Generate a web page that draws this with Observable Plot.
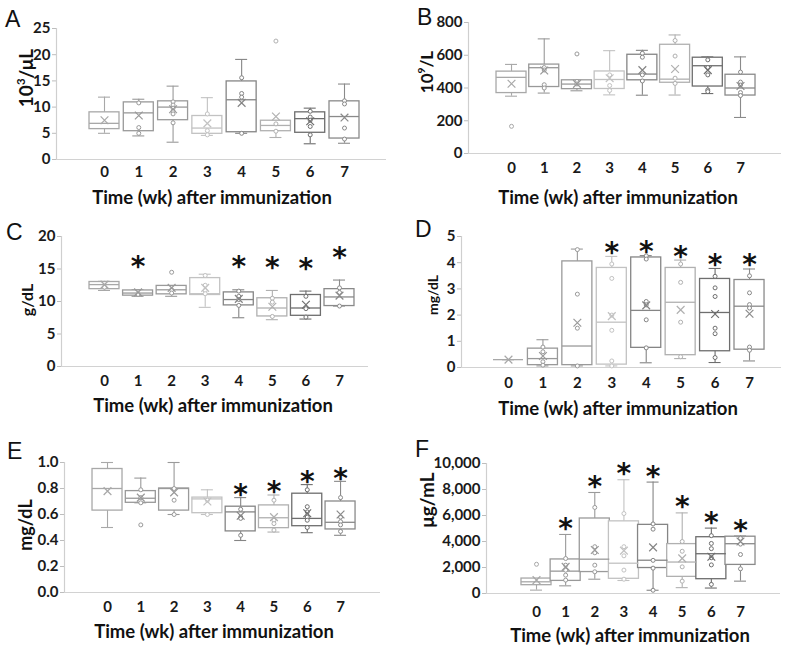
<!DOCTYPE html>
<html>
<head>
<meta charset="utf-8">
<script src="https://cdn.jsdelivr.net/npm/d3@7"></script>
<script src="https://cdn.jsdelivr.net/npm/@observablehq/plot@0.6"></script>
<style>
  body { margin: 0; background: #fff; }
  #root { position: relative; width: 786px; height: 646px; background: #fff; overflow: hidden; }
  .abs { position: absolute; white-space: nowrap; }
  .letter { font-family: "Liberation Sans", Arial, sans-serif; font-size: 23px; color: #111; line-height: 1; }
  .title { font-family: Lato, sans-serif; font-weight: bold; font-size: 18.5px; line-height: 1; color: #111; transform: translate(-50%, -50%); }
  .ylab { font-family: Lato, sans-serif; font-weight: bold; color: #111; line-height: 1; transform: translate(-50%, -50%) rotate(-90deg); }
  .ylab sup { font-size: 0.6em; vertical-align: 0.7em; line-height: 0; }
  svg { position: absolute; }
</style>
</head>
<body>
<div id="root"></div>
<script>
// ---------- DATA ----------
const weeks = [0, 1, 2, 3, 4, 5, 6, 7];
const weekColors = ["#a8a8a8", "#999999", "#9a9a9a", "#c2c2c2", "#858585", "#b0b0b0", "#6e6e6e", "#8a8a8a"];

// stats per week: [lower whisker, Q1, median, Q3, upper whisker, mean]
const A_stats = [[5.0, 5.8, 6.9, 9.0, 11.9, 7.5], [4.5, 5.4, 8.9, 10.9, 11.5, 8.4], [3.3, 7.5, 10.0, 11.1, 14.0, 9.6], [4.6, 4.9, 6.0, 8.3, 11.8, 6.9],
                 [5.0, 5.2, 11.4, 14.9, 19.1, 10.8], [4.2, 5.4, 6.5, 7.4, 7.4, 8.2], [3.0, 5.1, 7.8, 9.0, 9.8, 7.3], [3.1, 4.0, 8.2, 11.1, 14.4, 8.0]];
const A_points = [[], [10.8, 6.1, 5.0], [11.0, 10.4, 9.8, 9.2, 8.7, 7.0], [8.7, 5.5, 4.7], [15.6, 12.6, 11.9, 5.0], [22.6, 6.8, 5.4], [9.2, 8.1, 7.5, 6.3, 4.7], [11.2, 10.6, 6.0, 3.9]];
const A_sig = [0, 0, 0, 0, 0, 0, 0, 0];
const A_ticks = [0, 5, 10, 15, 20, 25];

const B_stats = [[350, 369, 465, 500, 544, 426], [369, 406, 524, 543, 700, 507], [383, 393, 424, 447, 447, 425], [358, 394, 452, 501, 628, 460],
                 [356, 447, 485, 603, 630, 509], [357, 432, 454, 664, 724, 516], [366, 409, 536, 585, 590, 509], [220, 354, 400, 481, 590, 412]];
const B_points = [[166], [525, 510, 420, 400], [608, 440, 425], [480, 415, 385], [612, 588, 480, 443], [690, 595, 460, 428], [572, 525, 480, 388, 378], [497, 436, 418, 372, 354]];
const B_sig = [0, 0, 0, 0, 0, 0, 0, 0];
const B_ticks = [0, 200, 400, 600, 800];

const C_stats = [[11.7, 11.9, 12.6, 13.0, 13.1, 12.6], [10.8, 10.9, 11.3, 11.7, 11.8, 11.4], [10.8, 11.1, 11.8, 12.4, 12.4, 12.1], [9.1, 11.0, 11.2, 13.6, 14.2, 12.1],
                 [7.5, 9.4, 10.3, 11.4, 11.8, 10.4], [7.2, 7.7, 9.0, 10.5, 11.7, 9.2], [7.3, 7.8, 9.0, 11.0, 11.6, 9.5], [9.3, 9.3, 10.7, 11.9, 13.3, 10.9]];
const C_points = [[12.2], [11.1], [14.5, 11.8, 11.3], [14.0, 12.5, 11.7, 11.2], [11.6, 10.8, 10.3, 9.4], [10.5, 9.9, 7.7], [10.8, 8.9, 7.6], [12.1, 11.4, 9.3]];
const C_sig = [0, 1, 0, 0, 1, 1, 1, 1];
const C_ticks = [0, 5, 10, 15, 20];

const D_stats = [[0.3, 0.3, 0.3, 0.3, 0.3, 0.3], [0.06, 0.09, 0.34, 0.72, 1.06, 0.44], [0.06, 0.09, 0.82, 4.05, 4.52, 1.71], [0.06, 0.11, 1.73, 3.8, 4.24, 1.96],
                 [0.18, 0.75, 2.18, 4.2, 4.27, 2.37], [0.34, 0.47, 2.49, 3.8, 4.1, 2.2], [0.19, 0.62, 2.1, 3.38, 3.78, 2.04], [0.25, 0.68, 2.34, 3.34, 3.76, 2.05]];
const D_points = [[], [0.78, 0.6, 0.22, 0.09], [4.5, 2.8, 1.5, 0.06], [3.95, 3.4, 2.0, 1.42, 0.25, 0.06], [4.26, 4.14, 2.52, 2.39, 1.82, 0.75],
                  [3.95, 3.25, 1.73, 0.41], [3.48, 3.04, 2.71, 1.5, 1.29, 0.38], [3.5, 2.85, 2.4, 2.27, 0.78, 0.66]];
const D_sig = [0, 0, 0, 1, 1, 1, 1, 1];
const D_ticks = [0, 1, 2, 3, 4, 5];

const E_stats = [[0.50, 0.63, 0.80, 0.95, 1.00, 0.78], [0.69, 0.69, 0.725, 0.78, 0.88, 0.73], [0.60, 0.63, 0.80, 0.80, 1.00, 0.77], [0.60, 0.61, 0.72, 0.73, 0.79, 0.70],
                 [0.40, 0.47, 0.62, 0.66, 0.73, 0.59], [0.465, 0.495, 0.575, 0.67, 0.75, 0.58], [0.46, 0.51, 0.57, 0.76, 0.83, 0.61], [0.44, 0.485, 0.54, 0.70, 0.855, 0.60]];
const E_points = [[], [0.79, 0.73, 0.69, 0.52], [0.80, 0.71, 0.60], [0.71, 0.60], [0.64, 0.58, 0.57, 0.44], [0.71, 0.555, 0.53, 0.48],
                  [0.79, 0.66, 0.62, 0.58, 0.556, 0.50], [0.73, 0.58, 0.545, 0.52, 0.47]];
const E_sig = [0, 0, 0, 0, 1, 1, 1, 1];
const E_ticks = [0, 0.2, 0.4, 0.6, 0.8, 1.0];

const F_stats = [[260, 640, 900, 1150, 1150, 1030], [590, 970, 1720, 2620, 4540, 2050], [1100, 1650, 2640, 5770, 7770, 3350], [1000, 1130, 2330, 5550, 8750, 3300],
                 [250, 1960, 2560, 5280, 8570, 3550], [450, 1280, 2420, 3800, 6200, 2700], [420, 1100, 3060, 4330, 5030, 2830], [950, 2200, 3830, 4370, 4420, 4000]];
const F_points = [[2250], [2690, 2180, 1790, 1410, 1030], [6620, 3600, 3130, 2180, 1670], [6150, 3600, 2900, 1800, 1100], [5350, 4950, 2550, 1950, 250],
                  [4000, 3250, 2050, 950], [4450, 3850, 3450, 2750, 2200, 700], [4250, 3800, 3000, 1900]];
const F_sig = [0, 1, 1, 1, 1, 1, 1, 1];
const F_ticks = [0, 2000, 4000, 6000, 8000, 10000];

const xTitle = "Time (wk) after immunization";

// ---------- LAYOUT ----------
const panels = [
  {letter: "A", stats: A_stats, points: A_points, sig: A_sig, ticks: A_ticks, fmt: d3.format("d"), ylab: "10<sup>3</sup>/μL", ylabSize: 19,
   left: 0, top: 0, w: 393, h: 215, mL: 56, mR: 7, mT: 28, mB: 56, xd: [-1.40, 8.225], ppw: 34.3, tickPad: 7, starOff: 12,
   letterPos: [5, 8], ylabPos: [25, 78], titlePos: [212, 197]},
  {letter: "B", stats: B_stats, points: B_points, sig: B_sig, ticks: B_ticks, fmt: d3.format("d"), ylab: "10<sup>9</sup>/L", ylabSize: 17,
   left: 393, top: 0, w: 393, h: 215, mL: 75, mR: 5, mT: 22, mB: 62, xd: [-1.315, 8.253], ppw: 32.7, tickPad: 9, starOff: 12,
   letterPos: [417, 6], ylabPos: [426, 72], titlePos: [618, 197]},
  {letter: "C", stats: C_stats, points: C_points, sig: C_sig, ticks: C_ticks, fmt: d3.format("d"), ylab: "g/dL", ylabSize: 16,
   left: 0, top: 215, w: 393, h: 215, mL: 61, mR: 25, mT: 21, mB: 64, xd: [-1.281, 7.864], ppw: 33.6, tickPad: 9, starOff: 30,
   letterPos: [6, 221], ylabPos: [27, 300], titlePos: [213, 405]},
  {letter: "D", stats: D_stats, points: D_points, sig: D_sig, ticks: D_ticks, fmt: d3.format("d"), ylab: "mg/dL", ylabSize: 14,
   left: 393, top: 215, w: 393, h: 215, mL: 68, mR: 5, mT: 21, mB: 63, xd: [-1.365, 7.929], ppw: 34.4, tickPad: 10, starOff: 11,
   letterPos: [415, 218], ylabPos: [433, 295], titlePos: [618, 408]},
  {letter: "E", stats: E_stats, points: E_points, sig: E_sig, ticks: E_ticks, fmt: d3.format(".1f"), ylab: "mg/dL", ylabSize: 18,
   left: 0, top: 430, w: 393, h: 216, mL: 64, mR: 13, mT: 32, mB: 54, xd: [-1.292, 8.20], ppw: 33.3, tickPad: 9, starOff: 10,
   letterPos: [7, 440], ylabPos: [25, 525], titlePos: [214, 631]},
  {letter: "F", stats: F_stats, points: F_points, sig: F_sig, ticks: F_ticks, fmt: d3.format(","), ylab: "μg/mL", ylabSize: 19,
   left: 393, top: 430, w: 393, h: 216, mL: 93, mR: 6, mT: 33, mB: 53, xd: [-1.716, 8.373], ppw: 29.1, tickPad: 13, starOff: 13,
   letterPos: [415, 438], ylabPos: [426, 500], titlePos: [630, 635]}
];

const root = document.getElementById("root");

function addDiv(cls, html, x, y, extra) {
  const d = document.createElement("div");
  d.className = "abs " + cls;
  d.innerHTML = html;
  d.style.left = x + "px";
  d.style.top = y + "px";
  if (extra) Object.assign(d.style, extra);
  root.appendChild(d);
}

for (const p of panels) {
  const rows = weeks.map((w, i) => ({
    w, lo: p.stats[i][0], q1: p.stats[i][1], med: p.stats[i][2], q3: p.stats[i][3], hi: p.stats[i][4], mean: p.stats[i][5],
    color: weekColors[i], sig: p.sig[i], top: Math.max(p.stats[i][4], ...p.points[i])
  }));
  const pts = weeks.flatMap((w, i) => p.points[i].map(v => ({w, v, color: weekColors[i]})));
  const bw = 15 / p.ppw;   // box half-width in week units
  const cw = 6 / p.ppw;    // whisker cap half-width
  const ymax = p.ticks[p.ticks.length - 1];

  const chart = Plot.plot({
    width: p.w, height: p.h,
    marginLeft: p.mL, marginRight: p.mR, marginTop: p.mT, marginBottom: p.mB,
    x: {type: "linear", domain: p.xd, axis: null},
    y: {domain: [0, ymax], axis: null},
    style: {fontFamily: "Lato, sans-serif", background: "transparent", overflow: "visible"},
    marks: [
      Plot.ruleY([0], {stroke: "#d2d2d2", strokeWidth: 1.2}),
      Plot.ruleX([p.xd[0]], {y1: 0, y2: ymax, stroke: "#cfcfcf", strokeWidth: 1.2}),
      Plot.axisY({ticks: p.ticks, tickFormat: p.fmt, tickSize: 4, tickPadding: 2, stroke: "#bdbdbd",
                  fill: "#1a1a1a", fontWeight: "bold", fontSize: 15, label: null}),
      Plot.axisX({ticks: weeks, tickFormat: d3.format("d"), tickSize: 0, tickPadding: p.tickPad,
                  fill: "#1a1a1a", fontWeight: "bold", fontSize: 15, label: null}),
      // whiskers
      Plot.ruleX(rows, {x: "w", y1: "q3", y2: "hi", stroke: "color", strokeWidth: 1.1}),
      Plot.ruleX(rows, {x: "w", y1: "lo", y2: "q1", stroke: "color", strokeWidth: 1.1}),
      Plot.ruleY(rows, {y: "hi", x1: d => d.w - cw, x2: d => d.w + cw, stroke: "color", strokeWidth: 1.1}),
      Plot.ruleY(rows, {y: "lo", x1: d => d.w - cw, x2: d => d.w + cw, stroke: "color", strokeWidth: 1.1}),
      // boxes
      Plot.rect(rows, {x1: d => d.w - bw, x2: d => d.w + bw, y1: "q1", y2: "q3", fill: "white", stroke: "color", strokeWidth: 1.3}),
      // median
      Plot.ruleY(rows, {y: "med", x1: d => d.w - bw, x2: d => d.w + bw, stroke: "color", strokeWidth: 1.3}),
      // individual points
      Plot.dot(pts, {x: "w", y: "v", r: 2, stroke: "color", fill: "white", strokeWidth: 1}),
      // mean
      Plot.dot(rows, {x: "w", y: "mean", symbol: "times", r: 3.6, stroke: "color", strokeWidth: 1.2}),
      // significance
      Plot.text(rows.filter(d => d.sig), {x: "w", y: "top", text: () => "*", lineAnchor: "middle",
        dy: -p.starOff + 7.5, fontSize: 28, fontFamily: "DejaVu Sans", fontWeight: "bold", fill: "#111"})
    ]
  });
  chart.style.left = p.left + "px";
  chart.style.top = p.top + "px";
  root.appendChild(chart);

  addDiv("letter", p.letter, p.letterPos[0], p.letterPos[1]);
  addDiv("ylab", p.ylab, p.ylabPos[0], p.ylabPos[1], {fontSize: p.ylabSize + "px"});
  addDiv("title", xTitle, p.titlePos[0], p.titlePos[1]);
}
</script>
</body>
</html>
